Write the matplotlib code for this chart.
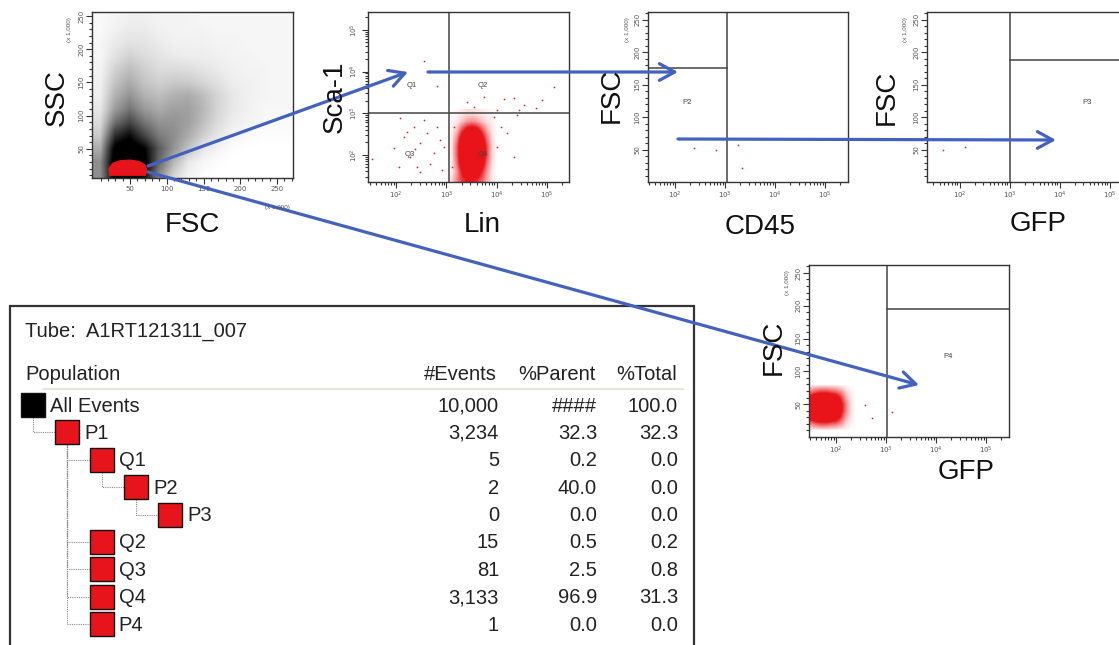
import numpy as np
import matplotlib
matplotlib.use("Agg")
import matplotlib.pyplot as plt
from matplotlib.colors import LinearSegmentedColormap
from matplotlib.patches import Polygon, Rectangle

# ---- data ----
# panel 1: all events, FSC vs SSC (x 1,000), darkness of the dot cloud per cell
fsc_centres = [10, 30, 50, 70, 90, 110, 130, 150, 170, 190, 210, 230, 250, 270]
ssc_centres = [250, 230, 210, 190, 170, 150, 130, 110, 90, 70, 50, 30, 10]
all_events_density = [
    [.02, .04, .05, .05, .04, .04, .04, .03, .03, .03, .03, .03, .03, .03],
    [.02, .05, .07, .07, .05, .04, .04, .04, .03, .03, .03, .03, .03, .03],
    [.03, .07, .10, .09, .07, .05, .05, .05, .04, .04, .03, .03, .03, .03],
    [.03, .10, .15, .12, .09, .07, .06, .06, .05, .04, .04, .03, .03, .03],
    [.04, .15, .22, .16, .12, .12, .11, .09, .07, .05, .04, .04, .03, .03],
    [.05, .20, .28, .20, .16, .18, .18, .14, .10, .06, .05, .04, .03, .03],
    [.06, .26, .36, .26, .22, .26, .28, .22, .14, .08, .05, .04, .03, .03],
    [.08, .33, .46, .34, .28, .32, .32, .24, .14, .08, .05, .03, .03, .03],
    [.12, .48, .62, .46, .36, .36, .32, .22, .12, .06, .04, .03, .02, .02],
    [.18, .70, .82, .62, .44, .38, .28, .16, .08, .04, .02, .01, .01, .01],
    [.28, .90, .97, .85, .55, .36, .20, .08, .04, .01, .00, .00, .00, .00],
    [.38, .95, 1.0, .90, .50, .24, .08, .03, .01, .00, .00, .00, .00, .00],
    [.38, .90, .95, .80, .40, .14, .04, .01, .00, .00, .00, .00, .00, .00],
]
p1_gate_fsc = [22, 21, 26, 36, 50, 62, 70, 73, 71]
p1_gate_ssc = [10, 20, 28, 32, 33, 31, 26, 18, 10]

# panel 2: P1 events, Lin vs Sca-1 (log10 units)
lin_centres = [3.0, 3.1, 3.2, 3.3, 3.4, 3.5, 3.6, 3.7, 3.8, 3.9, 4.0]
sca_centres = [3.0, 2.8, 2.6, 2.4, 2.2, 2.0, 1.8, 1.6, 1.4]
q4_density = [
    [.00, .00, .02, .05, .08, .08, .06, .05, .03, .02, .00],
    [.00, .02, .05, .15, .25, .30, .25, .15, .08, .04, .00],
    [.00, .03, .15, .45, .70, .80, .70, .45, .20, .06, .00],
    [.00, .05, .30, .75, .95, 1.0, .95, .70, .35, .08, .00],
    [.00, .06, .40, .85, 1.0, 1.0, 1.0, .85, .45, .10, .00],
    [.00, .06, .40, .85, 1.0, 1.0, 1.0, .85, .45, .10, .00],
    [.00, .05, .35, .80, 1.0, 1.0, .95, .75, .35, .08, .00],
    [.00, .04, .25, .60, .85, .90, .80, .55, .25, .05, .00],
    [.00, .10, .30, .50, .60, .60, .55, .40, .20, .05, .00],
]
lin_sparse = [2.55, 2.81, 3.75, 4.15, 4.35, 3.41, 4.91, 5.15, 4.78, 4.44, 4.01, 3.55, 4.55,
              2.08, 2.35, 2.61, 2.48, 2.28, 2.75, 2.15, 2.88, 1.95, 2.68, 2.41, 2.91, 2.55,
              2.21, 2.81, 2.05, 1.51, 2.48, 2.95, 2.38,
              4.08, 4.01, 4.35, 4.21, 3.11, 3.15, 3.95, 4.41]
sca_sparse = [4.25, 3.65, 3.40, 3.34, 3.37, 3.28, 3.32, 3.64, 3.13, 3.08, 3.08, 3.16, 3.21,
              2.88, 2.68, 2.52, 2.28, 1.96, 2.04, 2.44, 2.36, 2.16, 1.79, 1.71, 1.64, 2.84,
              2.56, 2.68, 1.71, 1.90, 1.60, 2.20, 2.14,
              2.68, 2.20, 1.96, 2.52, 1.71, 2.68, 2.92, 2.96]
lin_gate, sca_gate = 3.05, 3.0

# panel 3: Q1 events, CD45 vs FSC
cd45_events = [2.38, 2.82, 3.26, 3.34]
cd45_fsc = [52, 49, 57, 22]
cd45_gate, p2_fsc_gate = 3.04, 175

# panel 4: P2 events, GFP vs FSC
gfp_p2_events = [1.67, 2.11]
gfp_p2_fsc = [49, 54]
gfp_gate, p3_fsc_gate = 3.0, 188

# panel 5: P1 events, GFP vs FSC
gfp_centres = [1.5, 1.6, 1.7, 1.8, 1.9, 2.0, 2.1, 2.2, 2.3, 2.4]
fsc_p1_centres = [80, 70, 60, 50, 40, 30, 20, 10]
p1_gfp_density = [
    [.00, .00, .00, .00, .00, .00, .00, .00, .00, .00],
    [.30, .40, .45, .45, .40, .35, .25, .10, .03, .00],
    [.70, .85, .90, .90, .85, .75, .50, .20, .05, .00],
    [.90, 1.0, 1.0, 1.0, 1.0, .90, .65, .30, .06, .00],
    [.90, 1.0, 1.0, 1.0, 1.0, .90, .65, .30, .06, .00],
    [.75, .90, .95, .95, .90, .80, .50, .20, .05, .00],
    [.30, .40, .45, .45, .40, .35, .25, .10, .03, .00],
    [.00, .00, .00, .00, .00, .00, .00, .00, .00, .00],
]
gfp_p1_sparse = [2.58, 2.72, 3.12]
fsc_p1_sparse = [49, 29, 38]
p4_gfp_gate, p4_fsc_gate = 3.02, 195

# statistics table
populations = ['All Events', 'P1', 'Q1', 'P2', 'P3', 'Q2', 'Q3', 'Q4', 'P4']
parents = [-1, 0, 1, 2, 3, 1, 1, 1, 1]
levels = [0, 1, 2, 3, 4, 2, 2, 2, 2]
events = [10000, 3234, 5, 2, 0, 15, 81, 3133, 1]
pct_parent = [None, 32.3, 0.2, 40.0, 0.0, 0.5, 2.5, 96.9, 0.0]
pct_total = [100.0, 32.3, 0.0, 0.0, 0.0, 0.2, 0.8, 31.3, 0.0]

# ---- drawing ----
W, H = 1119, 645
fig = plt.figure(figsize=(W / 100, H / 100), dpi=100)
FONT = 'Liberation Sans'
blue = '#4262BE'
red = '#E8141B'
black_alpha = LinearSegmentedColormap.from_list('ka', [(0, 0, 0, 0), (0, 0, 0, 1)])
red_alpha = LinearSegmentedColormap.from_list('ra', [(0.91, 0.08, 0.1, 0), (0.91, 0.08, 0.1, 1)])


def px_axes(left, top, right, bottom):
    return fig.add_axes([left / W, 1 - bottom / H, (right - left) / W, (bottom - top) / H])


def ftext(x, y, s, **kw):
    kw.setdefault('family', FONT)
    fig.text(x / W, 1 - y / H, s, **kw)


def style(ax):
    for s in ax.spines.values():
        s.set_linewidth(1.0)
        s.set_color('#333333')
    ax.tick_params(which='both', direction='out', color='#333333', width=0.8,
                   labelsize=5, labelcolor='#555555', pad=1.5)
    ax.tick_params(which='major', length=4)
    ax.tick_params(which='minor', length=2)


def lin_y(ax, lo=0, hi=262):
    ax.set_ylim(lo, hi)
    ax.set_yticks([50, 100, 150, 200, 250])
    ax.set_yticklabels(['50', '100', '150', '200', '250'], rotation=90, va='center')
    ax.set_yticks(np.arange(10, hi, 10), minor=True)


def log_x(ax, lo=1.45, hi=5.45):
    ax.set_xlim(lo, hi)
    ax.set_xticks([2, 3, 4, 5])
    ax.set_xticklabels(['$10^{2}$', '$10^{3}$', '$10^{4}$', '$10^{5}$'])
    minors = [n + np.log10(k) for n in range(1, 6) for k in range(2, 10)]
    ax.set_xticks([m for m in minors if lo < m < hi], minor=True)


def grid_extent(xc, yc):
    dx = xc[1] - xc[0]
    dy = abs(yc[1] - yc[0])
    return (xc[0] - dx / 2, xc[-1] + dx / 2, min(yc) - dy / 2, max(yc) + dy / 2)


def gate_text(ax, x, y, s):
    ax.text(x, y, s, fontsize=5.5, color='#444444', ha='center', va='center', family=FONT)


# panel 1
ax1 = px_axes(92, 12, 293, 178)
style(ax1)
ax1.imshow(all_events_density, extent=grid_extent(fsc_centres, ssc_centres), origin='upper',
           cmap=black_alpha, vmin=0, vmax=0.85, interpolation='bilinear', aspect='auto')
ax1.add_patch(Polygon(list(zip(p1_gate_fsc, p1_gate_ssc)), closed=True,
                      facecolor=red, edgecolor=red, lw=0.8, zorder=3))
ax1.set_xlim(-2, 272)
ax1.set_xticks([50, 100, 150, 200, 250])
ax1.set_xticks(np.arange(10, 272, 10), minor=True)
lin_y(ax1, 6, 256)

# panel 2
ax2 = px_axes(368, 12, 569, 182)
style(ax2)
ax2.imshow(q4_density, extent=grid_extent(lin_centres, sca_centres), origin='upper',
           cmap=red_alpha, vmin=0, vmax=0.6, interpolation='bilinear', aspect='auto')
ax2.scatter(lin_sparse, sca_sparse, s=1.5, color=red, linewidths=0)
ax2.axvline(lin_gate, color='#444444', lw=1.1)
ax2.axhline(sca_gate, color='#444444', lw=1.1)
log_x(ax2, 1.44, 5.44)
ax2.set_ylim(1.35, 5.43)
ax2.set_yticks([2, 3, 4, 5])
ax2.set_yticklabels(['$10^{2}$', '$10^{3}$', '$10^{4}$', '$10^{5}$'], rotation=90, va='center')
ax2.set_yticks([m for m in [n + np.log10(k) for n in range(1, 6) for k in range(2, 10)]
                if 1.35 < m < 5.43], minor=True)
gate_text(ax2, 2.32, 3.67, 'Q1')
gate_text(ax2, 3.72, 3.67, 'Q2')
gate_text(ax2, 2.28, 2.0, 'Q3')
gate_text(ax2, 3.72, 2.0, 'Q4')

# panel 3
ax3 = px_axes(648, 12, 848, 182)
style(ax3)
ax3.scatter(cd45_events, cd45_fsc, s=1.5, color=red, linewidths=0)
log_x(ax3, 1.46, 5.46)
lin_y(ax3)
ax3.axvline(cd45_gate, color='#444444', lw=1.1)
ax3.plot([1.46, cd45_gate], [p2_fsc_gate, p2_fsc_gate], color='#444444', lw=1.1)
gate_text(ax3, 2.24, 122, 'P2')

# panel 4
ax4 = px_axes(927, 12, 1127, 182)
style(ax4)
ax4.scatter(gfp_p2_events, gfp_p2_fsc, s=1.5, color=red, linewidths=0)
log_x(ax4, 1.35, 5.35)
lin_y(ax4)
ax4.axvline(gfp_gate, color='#444444', lw=1.1)
ax4.plot([gfp_gate, 5.35], [p3_fsc_gate, p3_fsc_gate], color='#444444', lw=1.1)
gate_text(ax4, 4.55, 123, 'P3')

# panel 5
ax5 = px_axes(809, 265, 1009, 437)
style(ax5)
ax5.imshow(p1_gfp_density, extent=grid_extent(gfp_centres, fsc_p1_centres), origin='upper',
           cmap=red_alpha, vmin=0, vmax=0.6, interpolation='bilinear', aspect='auto')
ax5.scatter(gfp_p1_sparse, fsc_p1_sparse, s=1.5, color=red, linewidths=0)
log_x(ax5, 1.46, 5.46)
lin_y(ax5)
ax5.axvline(p4_gfp_gate, color='#444444', lw=1.1)
ax5.plot([p4_gfp_gate, 5.46], [p4_fsc_gate, p4_fsc_gate], color='#444444', lw=1.1)
gate_text(ax5, 4.24, 123, 'P4')

# axis titles
big = dict(fontsize=20, color='#111111', ha='center', va='center')
ftext(57, 97, 'SSC', rotation=90, **big)
ftext(192, 225, 'FSC', **big)
ftext(335, 97, 'Sca-1', rotation=90, **big)
ftext(482, 225, 'Lin', **big)
ftext(612, 95, 'FSC', rotation=90, **big)
ftext(760, 227, 'CD45', **big)
ftext(887, 97, 'FSC', rotation=90, **big)
ftext(1038, 224, 'GFP', **big)
ftext(774, 347, 'FSC', rotation=90, **big)
ftext(966, 472, 'GFP', **big)
small = dict(fontsize=4.5, color='#555555', ha='center', va='center')
ftext(70, 30, '(x 1,000)', rotation=90, **small)
ftext(277, 207, '(x 1,000)', **small)
ftext(627, 30, '(x 1,000)', rotation=90, **small)
ftext(906, 30, '(x 1,000)', rotation=90, **small)
ftext(788, 283, '(x 1,000)', rotation=90, **small)

# overlay: statistics table and arrows
ov = fig.add_axes([0, 0, 1, 1])
ov.set_xlim(0, W)
ov.set_ylim(H, 0)
ov.axis('off')
ov.add_patch(Rectangle((10, 306), 684, 360, facecolor='white', edgecolor='#333333', lw=1.6))
tcol = '#222222'
tfont = dict(fontsize=14.5, color=tcol, family=FONT, va='center')
ov.text(25, 331, 'Tube:  A1RT121311_007', ha='left', **tfont)
ov.text(25, 375, 'Population', ha='left', **tfont)
ov.text(497, 375, '#Events', ha='right', **tfont)
ov.text(596, 375, '%Parent', ha='right', **tfont)
ov.text(677, 375, '%Total', ha='right', **tfont)
ov.plot([43, 683], [389, 389], color='#E6DFD0', lw=1.2)

row0, pitch, sq = 405, 27.4, 24
sq_left = [21 + lv * 34.3 for lv in levels]
row_y = [row0 + i * pitch for i in range(len(populations))]
for i, name in enumerate(populations):
    y = row_y[i]
    x0 = sq_left[i]
    ov.add_patch(Rectangle((x0, y - sq / 2), sq, sq, facecolor='black' if levels[i] == 0 else red,
                           edgecolor='#111111', lw=1.0, zorder=3))
    ov.text(x0 + sq + 5, y + 1, name, ha='left', **tfont)
    ov.text(499, y + 1, f'{events[i]:,}', ha='right', **tfont)
    ov.text(597, y + 1, '####' if pct_parent[i] is None else f'{pct_parent[i]:.1f}', ha='right', **tfont)
    ov.text(678, y + 1, f'{pct_total[i]:.1f}', ha='right', **tfont)
    p = parents[i]
    if p >= 0:
        px = sq_left[p] + sq / 2
        ov.plot([px, px, x0], [row_y[p] + sq / 2, y, y], color='#888888', lw=0.8,
                ls=(0, (1, 1)), zorder=2)

arrows = [((148, 166), (408, 72)), ((428, 72), (678, 72)),
          ((678, 139), (1056, 140)), ((148, 172), (919, 385))]
for start, tip in arrows:
    ov.annotate('', xy=tip, xytext=start,
                arrowprops=dict(arrowstyle='->, head_length=0.55, head_width=0.3',
                                color=blue, lw=2.3, shrinkA=0, shrinkB=0, mutation_scale=20))

fig.savefig('out.png', dpi=100)
